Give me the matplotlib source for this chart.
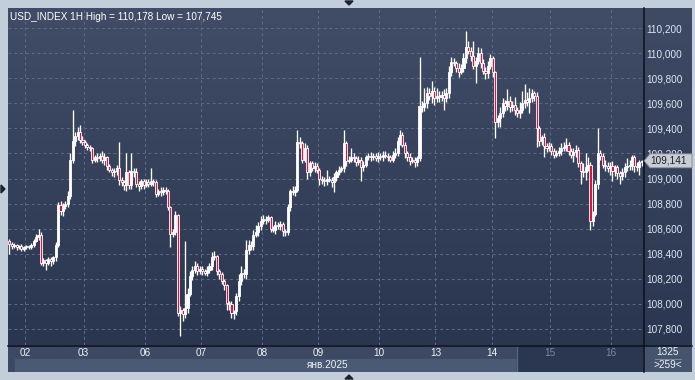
import numpy as np
import matplotlib
matplotlib.use('Agg')
import matplotlib.pyplot as plt
from matplotlib.colors import LinearSegmentedColormap
from matplotlib.patches import Rectangle, Polygon
from matplotlib.lines import Line2D

# hourly closes, USD_INDEX 1H (open of each bar = previous close)
first_open = 108.50
closes = [
    108.48, 108.46, 108.47, 108.45, 108.46, 108.44, 108.45, 108.46, 108.45, 108.47,
    108.50, 108.53, 108.55, 108.33, 108.35, 108.33, 108.36, 108.34, 108.37, 108.47,
    108.79, 108.74, 108.78, 108.80, 108.86, 109.15, 109.30, 109.34, 109.37, 109.31,
    109.29, 109.27, 109.25, 109.24, 109.15, 109.17, 109.16, 109.18, 109.15, 109.17,
    109.10, 109.07, 109.05, 109.06, 109.08, 108.99, 108.97, 108.95, 109.05, 108.95,
    109.06, 109.05, 108.96, 108.94, 108.98, 108.95, 108.97, 108.96, 108.98, 108.97,
    108.88, 108.90, 108.89, 108.91, 108.90, 108.77, 108.56, 108.57, 108.71, 107.93,
    107.95, 107.92, 107.97, 108.08, 108.22, 108.27, 108.30, 108.26, 108.28, 108.26,
    108.25, 108.27, 108.30, 108.37, 108.38, 108.26, 108.24, 108.18, 108.15, 108.01,
    108.00, 107.93, 107.94, 108.06, 108.18, 108.25, 108.24, 108.43, 108.47, 108.46,
    108.55, 108.57, 108.62, 108.66, 108.68, 108.67, 108.69, 108.60, 108.59, 108.63,
    108.62, 108.64, 108.58, 108.57, 108.77, 108.90, 108.89, 108.91, 109.29, 109.28,
    109.15, 109.24, 109.05, 109.12, 109.08, 109.10, 109.07, 109.00, 108.99, 108.98,
    109.00, 108.99, 108.97, 109.01, 109.05, 109.07, 109.08, 109.28, 109.14, 109.15,
    109.17, 109.16, 109.13, 109.15, 109.09, 109.11, 109.17, 109.18, 109.17, 109.18,
    109.16, 109.18, 109.17, 109.19, 109.18, 109.17, 109.15, 109.19, 109.20, 109.30,
    109.35, 109.27, 109.20, 109.17, 109.14, 109.15, 109.13, 109.16, 109.58, 109.57,
    109.60, 109.68, 109.66, 109.70, 109.64, 109.66, 109.65, 109.67, 109.64, 109.68,
    109.85, 109.93, 109.92, 109.88, 109.85, 109.88, 109.96, 110.05, 110.02, 109.98,
    109.90, 109.94, 110.00, 109.92, 109.86, 109.84, 109.90, 109.96, 109.85, 109.45,
    109.48, 109.52, 109.60, 109.58, 109.62, 109.57, 109.59, 109.55, 109.52, 109.55,
    109.60, 109.63, 109.61, 109.64, 109.68, 109.66, 109.40, 109.30, 109.33, 109.26,
    109.24, 109.26, 109.22, 109.19, 109.20, 109.22, 109.24, 109.25, 109.27, 109.22,
    109.19, 109.21, 109.23, 109.12, 109.06, 109.05, 109.09, 109.11, 108.66, 108.72,
    108.96, 109.20, 109.18, 109.11, 109.10, 109.08, 109.10, 109.06, 109.09, 109.04,
    109.02, 109.05, 109.09, 109.10, 109.11, 109.17, 109.10, 109.09, 109.13, 109.141,
]
# wick lengths above / below the body, in thousandths
upper_wick = [
    15, 10, 12, 8, 10, 14, 8, 10, 12, 15,
    20, 30, 50, 20, 15, 10, 12, 15, 10, 20,
    20, 30, 25, 20, 40, 50, 250, 30, 40, 60,
    30, 20, 15, 20, 15, 20, 30, 25, 40, 30,
    10, 15, 10, 20, 30, 210, 20, 15, 150, 20,
    140, 20, 30, 20, 15, 20, 25, 30, 100, 20,
    15, 20, 30, 25, 20, 15, 10, 30, 30, 10,
    30, 20, 530, 50, 40, 30, 40, 30, 20, 25,
    20, 30, 30, 40, 40, 10, 20, 15, 20, 10,
    15, 20, 10, 30, 60, 50, 30, 80, 40, 30,
    40, 60, 30, 40, 30, 20, 20, 10, 20, 30,
    20, 20, 10, 20, 30, 20, 40, 30, 100, 40,
    20, 40, 30, 20, 20, 30, 20, 10, 20, 20,
    70, 20, 20, 30, 20, 30, 20, 110, 20, 30,
    70, 30, 20, 30, 20, 30, 20, 20, 30, 20,
    20, 30, 20, 30, 30, 20, 20, 30, 40, 30,
    40, 20, 20, 20, 30, 20, 20, 20, 390, 40,
    120, 50, 40, 80, 30, 60, 40, 30, 40, 40,
    50, 40, 30, 20, 40, 30, 40, 128, 50, 30,
    120, 30, 50, 40, 30, 30, 40, 30, 20, 10,
    30, 50, 40, 30, 90, 40, 30, 60, 20, 60,
    100, 120, 60, 80, 30, 20, 30, 20, 20, 30,
    20, 30, 20, 20, 30, 30, 40, 40, 50, 20,
    20, 30, 40, 20, 20, 60, 110, 60, 20, 20,
    30, 200, 30, 20, 40, 30, 30, 40, 20, 20,
    20, 30, 30, 60, 40, 20, 20, 30, 20, 10,
]
lower_wick = [
    80, 20, 15, 20, 10, 15, 20, 10, 15, 10,
    15, 10, 20, 20, 30, 60, 20, 40, 20, 30,
    20, 30, 40, 20, 30, 20, 30, 40, 30, 30,
    20, 30, 20, 20, 30, 20, 30, 20, 30, 40,
    30, 20, 30, 40, 30, 40, 30, 40, 50, 30,
    30, 40, 30, 40, 20, 30, 20, 30, 20, 30,
    30, 20, 30, 20, 20, 20, 110, 30, 20, 30,
    185, 60, 30, 40, 20, 30, 20, 30, 20, 30,
    20, 30, 20, 30, 20, 30, 40, 20, 40, 60,
    50, 40, 50, 30, 40, 30, 30, 40, 30, 30,
    30, 20, 30, 30, 20, 30, 20, 30, 20, 30,
    20, 30, 40, 30, 20, 30, 20, 30, 20, 40,
    30, 20, 50, 30, 20, 30, 30, 50, 30, 40,
    30, 20, 40, 80, 30, 20, 20, 30, 40, 20,
    20, 30, 30, 20, 110, 30, 20, 20, 30, 20,
    20, 30, 20, 30, 20, 30, 20, 20, 30, 20,
    30, 20, 40, 30, 30, 20, 40, 30, 20, 40,
    30, 40, 30, 60, 50, 30, 40, 30, 90, 30,
    40, 30, 20, 30, 40, 20, 30, 40, 30, 40,
    30, 140, 30, 40, 30, 50, 40, 30, 40, 130,
    40, 70, 30, 40, 30, 40, 30, 40, 30, 40,
    30, 40, 30, 90, 30, 40, 150, 40, 30, 90,
    30, 20, 30, 30, 20, 20, 30, 20, 30, 30,
    30, 60, 40, 30, 100, 40, 60, 30, 70, 40,
    20, 40, 30, 30, 40, 30, 50, 80, 40, 40,
    60, 30, 40, 30, 30, 40, 50, 30, 60, 30,
]
day_labels = ['02', '03', '06', '07', '08', '09', '10', '13', '14', '15', '16']
day_start = [7, 31, 56, 79, 104, 127, 152, 175, 198, 222, 247]
dim_days = ['15', '16']
y_ticks = [107.8, 108.0, 108.2, 108.4, 108.6, 108.8, 109.0,
           109.2, 109.4, 109.6, 109.8, 110.0, 110.2]
month_label = 'янв.2025'
bar_total = '1325'
bar_visible = '>259<'

W, H = 695, 380
FS = 7.2
FONT = 'Liberation Sans'
fig = plt.figure(figsize=(W / 100, H / 100), dpi=100, facecolor='#c3cedb')


def box(x0, y0, x1, y1):
    # pixel box (top-left origin) -> figure rect
    return [x0 / W, 1 - y1 / H, (x1 - x0) / W, (y1 - y0) / H]


def fpt(x, y):
    return (x / W, 1 - y / H)


grad = np.linspace(0, 1, 256).reshape(-1, 1)
plot_cmap = LinearSegmentedColormap.from_list('p', ['#414d67', '#2a3550'])
side_cmap = LinearSegmentedColormap.from_list('s', ['#3f4b65', '#2b3651'])

bg = fig.add_axes(box(8, 8, 643, 345))
bg.imshow(grad, aspect='auto', cmap=plot_cmap, extent=[0, 1, 0, 1])
bg.axis('off')
side = fig.add_axes(box(643, 8, 692, 345))
side.imshow(grad, aspect='auto', cmap=side_cmap, extent=[0, 1, 0, 1])
side.axis('off')

ax = fig.add_axes(box(8, 8, 643, 345))
ax.set_facecolor('none')
n = len(closes)
x = np.arange(n)
c = np.array(closes)
o = np.array([first_open] + closes[:-1])
top = np.maximum(o, c)
bot = np.minimum(o, c)
highs = top + np.array(upper_wick) / 1000
lows = bot - np.array(lower_wick) / 1000
colors = np.where(c < o, '#e0123e', '#ffffff')

grid_kw = dict(color='#5d6b88', lw=0.7, ls=(0, (3, 3)), zorder=1)
for v in y_ticks:
    ax.axhline(v, **grid_kw)
for d in day_start:
    ax.axvline(d - 0.5, **grid_kw)

ax.vlines(x, lows, highs, color='white', lw=0.95, zorder=2)
ax.bar(x, np.maximum(top - bot, 0.002), bottom=bot, width=0.85, color=colors,
       edgecolor='white', linewidth=0.6, zorder=3)

ax.set_xlim(-0.5, n - 0.5)
ax.set_ylim(107.672, 110.36)
ax.set_xticks([])
ax.yaxis.tick_right()
ax.set_yticks(y_ticks)
ax.set_yticklabels([f'{v:.3f}'.replace('.', ',') for v in y_ticks])
ax.tick_params(axis='y', length=0, pad=2.5, labelsize=FS, labelcolor='#dbe5f3')
for t in ax.get_yticklabels():
    t.set_fontfamily(FONT)
for s in ax.spines.values():
    s.set_visible(False)

hi, lo = highs.max(), lows.min()
ax.text(0.003, 0.988, f'USD_INDEX 1H High = {hi:.3f} Low = {lo:.3f}'.replace('.', ','),
        transform=ax.transAxes, ha='left', va='top', fontsize=FS,
        family=FONT, color='white', zorder=5)

# bottom date strip
bax = fig.add_axes(box(8, 345, 643, 372))
bax.set_xlim(ax.get_xlim())
bax.set_ylim(27, 0)
bax.axis('off')
bax.add_patch(Rectangle((0, 0), 1, 1, transform=bax.transAxes, color='#3d4962', zorder=0))
bax.add_patch(Rectangle((0.011, 0), 0.989, 0.5, transform=bax.transAxes, color='#4b5a74', zorder=0))
bax.add_patch(Rectangle((0.8016, 0), 0.2, 1, transform=bax.transAxes, color='#2b3651', zorder=1))
bax.axvline(ax.get_xlim()[0] + 0.8016 * n, color='#56647f', lw=1, zorder=2)
for d, lab in zip(day_start, day_labels):
    bax.text(d - 0.5, 7.5, lab, ha='center', va='center', fontsize=FS,
             family=FONT, color='#7b889f' if lab in dim_days else '#eef3fa', zorder=3)
bax.text(0.537, 0.27, month_label, transform=bax.transAxes, ha='right', va='center',
         fontsize=FS, family=FONT, color='#eef3fa', zorder=3)

# corner counter box
cax = fig.add_axes(box(643, 345, 692, 372))
cax.set_xlim(0, 1)
cax.set_ylim(0, 1)
cax.axis('off')
cax.add_patch(Rectangle((0, 0), 1, 1, color='#45536d'))
cax.text(0.5, 0.74, bar_total, ha='center', va='center', fontsize=FS,
         family=FONT, color='#eef3fa')
cax.plot([0.25, 0.78], [0.5, 0.5], color='#8595ad', lw=0.6)
cax.text(0.5, 0.26, bar_visible, ha='center', va='center', fontsize=FS,
         family=FONT, color='#eef3fa')

# separator lines
fig.add_artist(Line2D([8 / W, 692 / W], [1 - 345.5 / H] * 2, color='#0c1019', lw=1.1))
fig.add_artist(Line2D([643.5 / W] * 2, [1 - 8 / H, 1 - 372 / H], color='#0c1019', lw=1.1))

# last price marker
py = H - ax.transData.transform((0, closes[-1]))[1]
marker = Polygon([fpt(644, py), fpt(650, py - 7), fpt(692, py - 7), fpt(692, py + 7),
                  fpt(650, py + 7)], closed=True, transform=fig.transFigure,
                 facecolor='#c9cdd3', edgecolor='#7e8694', lw=0.6, zorder=10)
fig.add_artist(marker)
fig.text(650 / W, 1 - py / H, f'{closes[-1]:.3f}'.replace('.', ','), ha='left', va='center',
         fontsize=FS, family=FONT, color='#1b1f27', zorder=11)

# scroll arrows on frame
for pts in ([(345, 1), (353, 1), (349, 5)], [(1, 185), (1, 193), (5, 189)],
            [(345, 379), (353, 379), (349, 375)]):
    fig.add_artist(Polygon([fpt(*p) for p in pts], closed=True, transform=fig.transFigure,
                           color='#1c2230', zorder=10))

fig.savefig('out.png', dpi=100, facecolor=fig.get_facecolor())
